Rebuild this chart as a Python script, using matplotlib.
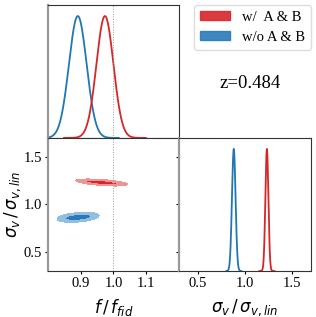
import numpy as np
import matplotlib
matplotlib.use('Agg')
import matplotlib.pyplot as plt
import matplotlib.patches as patches

# posterior summaries
labels = ['w/  A & B', 'w/o A & B']
line_colors = ['#d62728', '#1f77b4']
fill_dark = ['#d8262a', '#2a7ab9']
fill_light = ['#ef9495', '#92bfe0']

# 1D marginals
f_mean = [0.974, 0.891]
f_sig = [0.026, 0.027]
s_mean = [1.233, 0.882]
s_sig = [0.016, 0.019]

# 2D contours (f, sigma_v)
c_fmean = [0.964, 0.892]
c_smean = [1.231, 0.865]
c_fsig = [0.0318, 0.0258]
c_ssig = [0.0149, 0.0213]
c_rho = [-0.53, 0.33]

f_lim = [0.8, 1.2]
s_lim = [0.3, 1.7]
f_ticks = [0.9, 1.0, 1.1]
s_ticks = [0.5, 1.0, 1.5]
redshift = 'z=0.484'

serif = 'Liberation Serif'
plt.rcParams['mathtext.fontset'] = 'dejavusans'

fig = plt.figure(figsize=(3.16, 3.17), dpi=100)
L, M, R = 0.152, 0.566, 0.984
B, C, T = 0.145, 0.565, 0.984
ax_f = fig.add_axes([L, C, M - L, T - C])
ax_2d = fig.add_axes([L, B, M - L, C - B])
ax_s = fig.add_axes([M, B, R - M, C - B])

def style(ax):
    for k in ['top', 'right', 'bottom']:
        ax.spines[k].set_color('#333333')
        ax.spines[k].set_linewidth(0.8)
    ax.spines['left'].set_color('#999999')
    ax.spines['left'].set_linewidth(1.6)
    ax.tick_params(direction='out', length=2.5, width=0.8, pad=2, labelsize=10.5)
    for t in ax.get_xticklabels() + ax.get_yticklabels():
        t.set_family(serif)

peak = 1 / 1.09

# top left: f marginal
for i in [1, 0]:
    x = np.linspace(f_mean[i] - 0.125, f_mean[i] + 0.125, 300)
    y = peak * np.exp(-0.5 * ((x - f_mean[i]) / f_sig[i]) ** 2)
    ax_f.plot(x, y, color=line_colors[i], lw=1.3)
ax_f.axvline(1.0, color='#999999', lw=0.7, ls=':')
ax_f.set_xlim(f_lim)
ax_f.set_ylim(0, 1)
ax_f.set_xticks(f_ticks)
ax_f.set_xticklabels([])
ax_f.set_yticks([])
style(ax_f)

# bottom left: 2D contours
ff, ss = np.meshgrid(np.linspace(0.75, 1.1, 400), np.linspace(0.6, 1.5, 400))
for i in [1, 0]:
    dx = (ff - c_fmean[i]) / c_fsig[i]
    dy = (ss - c_smean[i]) / c_ssig[i]
    r = c_rho[i]
    chi2 = (dx ** 2 - 2 * r * dx * dy + dy ** 2) / (1 - r ** 2)
    ax_2d.contourf(ff, ss, chi2, levels=[0, 2.30, 6.17],
                   colors=[fill_dark[i], fill_light[i]])
ax_2d.axvline(1.0, color='#999999', lw=0.7, ls=':')
ax_2d.set_xlim(f_lim)
ax_2d.set_ylim(s_lim)
ax_2d.set_xticks(f_ticks)
ax_2d.set_yticks(s_ticks)
ax_2d.set_xticklabels(['%.1f' % v for v in f_ticks])
ax_2d.set_yticklabels(['%.1f' % v for v in s_ticks])
ax_2d.set_xlabel(r'$f\,/\,f_{fid}$', fontsize=12, labelpad=5)
ax_2d.set_ylabel(r'$\sigma_v\,/\,\sigma_{v,lin}$', fontsize=12, labelpad=0)
style(ax_2d)

# bottom right: sigma_v marginal
for i in [1, 0]:
    x = np.linspace(s_mean[i] - 0.08, s_mean[i] + 0.08, 300)
    y = s_lim[0] + (s_lim[1] - s_lim[0]) * peak * np.exp(-0.5 * ((x - s_mean[i]) / s_sig[i]) ** 2)
    ax_s.plot(x, y, color=line_colors[i], lw=1.3)
ax_s.set_xlim(s_lim)
ax_s.set_ylim(s_lim)
ax_s.set_xticks(s_ticks)
ax_s.set_yticks(s_ticks)
ax_s.set_xticklabels(['%.1f' % v for v in s_ticks])
ax_s.set_yticklabels([])
ax_s.set_xlabel(r'$\sigma_v\,/\,\sigma_{v,lin}$', fontsize=12, labelpad=5)
style(ax_s)

handles = [patches.Patch(color=fill_dark[i], alpha=0.9, label=labels[i]) for i in range(2)]
leg = fig.legend(handles=handles, loc='upper right', bbox_to_anchor=(0.984, 0.985),
                 borderaxespad=0, prop={'family': serif, 'size': 10.5},
                 handlelength=2.1, handleheight=0.6, framealpha=1, edgecolor='#dddddd')
fig.text(0.79, 0.738, redshift, ha='center', va='center', family=serif, fontsize=13.5)

fig.savefig('out.png', dpi=100)
